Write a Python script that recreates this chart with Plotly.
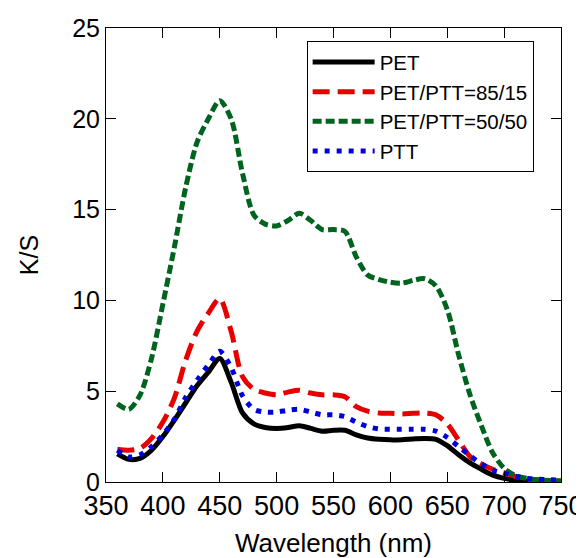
import plotly.graph_objects as go

wavelength = list(range(360, 760, 10))

pet = [1.55, 1.25, 1.3, 1.75, 2.5, 3.4, 4.35, 5.3, 6.05, 6.8,
       5.5, 3.8, 3.2, 3.0, 2.95, 3.0, 3.1, 2.95, 2.8, 2.85,
       2.85, 2.6, 2.42, 2.35, 2.32, 2.33, 2.37, 2.4, 2.35, 2.0,
       1.5, 1.05, 0.7, 0.38, 0.2, 0.1, 0.05, 0.03, 0.02, 0.02]

pet_ptt_85_15 = [1.8, 1.75, 1.85, 2.4, 3.3, 4.6, 6.7, 8.3, 9.3, 10.1,
                 8.3, 5.8, 5.1, 4.9, 4.8, 4.95, 5.05, 4.9, 4.8, 4.8,
                 4.7, 4.15, 3.9, 3.8, 3.78, 3.75, 3.78, 3.8, 3.7, 3.2,
                 2.3, 1.4, 1.0, 0.7, 0.5, 0.3, 0.18, 0.1, 0.07, 0.05]

pet_ptt_50_50 = [4.3, 4.0, 4.8, 6.8, 9.8, 12.9, 16.2, 18.7, 20.0, 21.0,
                 20.0, 17.0, 14.7, 14.2, 14.1, 14.4, 14.8, 14.4, 13.9, 13.9,
                 13.8, 12.4, 11.4, 11.15, 11.0, 10.95, 11.1, 11.2, 10.8, 9.5,
                 7.0, 4.8, 3.1, 1.6, 0.75, 0.35, 0.2, 0.12, 0.08, 0.05]

ptt = [1.75, 1.38, 1.5, 1.95, 2.6, 3.45, 4.65, 5.6, 6.45, 7.2,
       6.3, 4.75, 4.0, 3.85, 3.85, 3.95, 4.0, 3.85, 3.7, 3.7,
       3.6, 3.3, 3.05, 2.92, 2.9, 2.9, 2.9, 2.9, 2.8, 2.45,
       1.95, 1.45, 1.0, 0.65, 0.48, 0.32, 0.2, 0.15, 0.12, 0.1]

series_names = ["PET", "PET/PTT=85/15", "PET/PTT=50/50", "PTT"]
series_values = [pet, pet_ptt_85_15, pet_ptt_50_50, ptt]
series_colors = ["#000000", "#E60000", "#00641E", "#0000DC"]
series_dash = ["solid", "17px,8px", "9px,4px", "5px,7px"]

x_ticks = list(range(350, 800, 50))
y_ticks = list(range(0, 30, 5))

FONT = "Liberation Sans, Arial, sans-serif"

fig = go.Figure()
for name, vals, col, dash in zip(series_names, series_values, series_colors, series_dash):
    fig.add_trace(go.Scatter(
        x=wavelength, y=vals, name=name, mode="lines",
        line=dict(color=col, width=5, dash=dash, shape="spline", smoothing=0.8),
    ))

# page body has an 8px default margin, so the figure is 8px smaller
fig.update_layout(
    width=576, height=550,
    margin=dict(l=98, r=23, t=20, b=76),
    paper_bgcolor="white", plot_bgcolor="white",
    font=dict(family=FONT, color="black", size=25),
    showlegend=True,
    legend=dict(
        x=0.441, y=0.971, xanchor="left", yanchor="top",
        bordercolor="black", borderwidth=1, bgcolor="white",
        font=dict(family=FONT, size=20.5, color="black"),
        tracegroupgap=0, itemwidth=62,
    ),
)
fig.update_xaxes(
    range=[350, 750], tickvals=x_ticks, ticktext=[str(v) for v in x_ticks],
    showline=True, linecolor="black", linewidth=1, mirror="ticks",
    ticks="inside", ticklen=10, tickwidth=1, tickcolor="black",
    showgrid=False, zeroline=False, automargin=False,
    tickfont=dict(size=27),
    title=dict(text="Wavelength (nm)", font=dict(size=26), standoff=19),
)
fig.update_yaxes(
    range=[0, 25], tickvals=y_ticks, ticktext=[str(v) for v in y_ticks],
    showline=True, linecolor="black", linewidth=1, mirror="ticks",
    ticks="inside", ticklen=10, tickwidth=1, tickcolor="black",
    showgrid=False, zeroline=False, automargin=False,
    tickfont=dict(size=25),
    title=dict(text="K/S", font=dict(size=25), standoff=26),
)

fig.write_html("out.html")
